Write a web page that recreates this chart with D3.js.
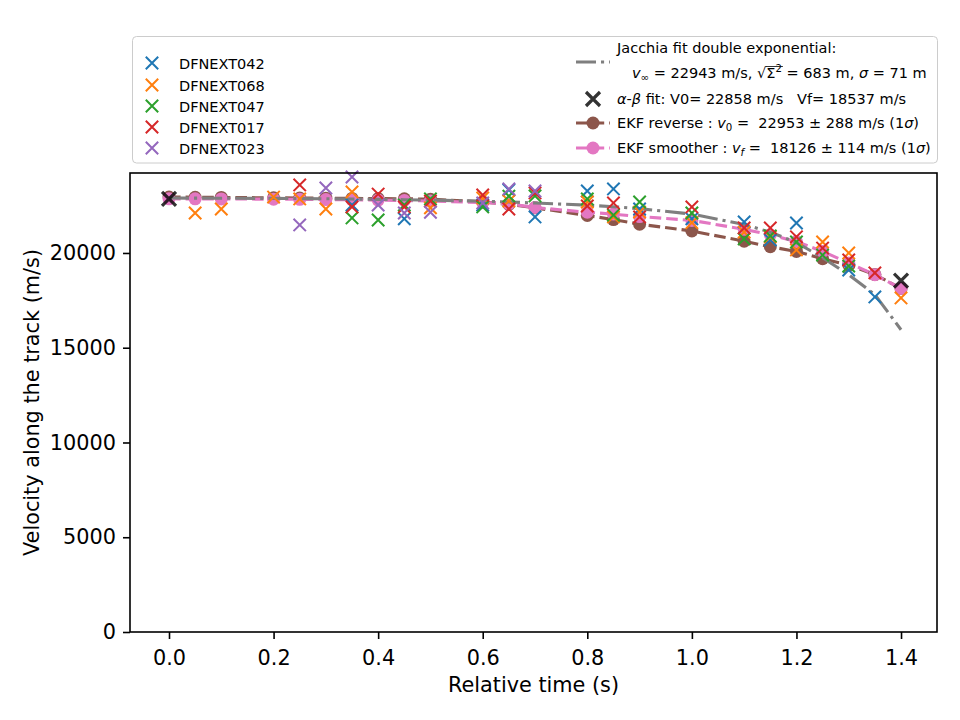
<!DOCTYPE html>
<html>
<head>
<meta charset="utf-8">
<script src="https://cdn.jsdelivr.net/npm/d3@7"></script>
<style>
body { margin: 0; background: #fff; }
text { font-family: "DejaVu Sans", sans-serif; }
</style>
</head>
<body>
<div id="chart"></div>
<script>
// sample times of the tracks (s)
var times = [0, 0.05, 0.1, 0.2, 0.25, 0.3, 0.35, 0.4, 0.45, 0.5, 0.6, 0.65, 0.7, 0.8, 0.85, 0.9, 1.0, 1.1, 1.15, 1.2, 1.25, 1.3, 1.35, 1.4];

// per camera velocities (m/s), null = no point
var dfnext042 = [null, null, null, null, null, null, 22530, null, 21800, null, 22530, 23320, 21900, 23270, 23380, 22320, 21800, 21640, 20690, 21580, null, 19100, 17680, null];
var dfnext068 = [null, 22110, 22320, 22950, 22850, 22320, 23220, null, null, 22380, 22900, 22740, null, 22690, 21900, 22160, 21600, 21100, 20850, 20160, 20580, 20000, null, 17630];
var dfnext047 = [null, null, null, null, null, null, 21850, 21740, 22530, 22850, 22430, 23000, 23010, 22850, 22000, 22690, 22110, 20740, 20900, 20580, 19890, 19310, null, null];
var dfnext017 = [null, null, null, null, 23590, null, 22430, 23110, 22430, 22740, 23060, 22320, 23170, 22480, 22640, 21900, 22430, 21320, 21320, 20850, 20260, 19630, 18950, null];
var dfnext023 = [null, null, null, null, 21480, 23430, 24010, 22530, 22110, 22150, 22640, 23380, 23270, null, null, null, null, null, null, null, null, null, null, null];

var cameraNames = ['DFNEXT042', 'DFNEXT068', 'DFNEXT047', 'DFNEXT017', 'DFNEXT023'];
var cameraColors = ['#1f77b4', '#ff7f0e', '#2ca02c', '#d62728', '#9467bd'];

// fits and filters (m/s)
var jacchiaFit = [22900, 22895, 22890, 22880, 22870, 22860, 22845, 22830, 22810, 22790, 22730, 22690, 22640, 22520, 22440, 22340, 22050, 21500, 21100, 20550, 19750, 18850, 17800, 15950];
var ekfReverse = [22953, 22940, 22930, 22910, 22900, 22890, 22880, 22870, 22860, 22840, 22700, 22560, 22380, 21980, 21760, 21520, 21160, 20620, 20330, 20080, 19700, 19360, 18860, 18130];
var ekfSmoother = [22858, 22855, 22850, 22840, 22830, 22820, 22810, 22790, 22770, 22740, 22660, 22600, 22400, 22150, 22050, 21920, 21720, 21250, 20960, 20600, 20080, 19470, 18850, 18126];
var alphaBetaTimes = [0, 1.4];
var alphaBetaValues = [22858, 18537];

var xTicks = [0, 0.2, 0.4, 0.6, 0.8, 1.0, 1.2, 1.4];
var yTicks = [0, 5000, 10000, 15000, 20000];

// chart dimensions
var width = 960;
var height = 720;
var plotLeft = 130, plotRight = 937, plotTop = 173, plotBottom = 632;

var x = d3.scaleLinear().domain([-0.0746, 1.4688]).range([plotLeft, plotRight]);
var y = d3.scaleLinear().domain([0, 24220]).range([plotBottom, plotTop]);

var svg = d3.select('#chart')
  .append('svg')
  .attr('width', width)
  .attr('height', height);

// helper: turn a value array into points
function points(values) {
  return times.map(function(t, i) { return { t: t, v: values[i] }; });
}

function drawX(g, cx, cy, r, color, w) {
  g.append('path')
    .attr('d', 'M' + (cx - r) + ',' + (cy - r) + 'L' + (cx + r) + ',' + (cy + r) + 'M' + (cx - r) + ',' + (cy + r) + 'L' + (cx + r) + ',' + (cy - r))
    .attr('stroke', color)
    .attr('stroke-width', w)
    .attr('fill', 'none');
}

var line = d3.line()
  .defined(function(d) { return d.v != null; })
  .x(function(d) { return x(d.t); })
  .y(function(d) { return y(d.v); });

var plot = svg.append('g');

// EKF reverse (brown)
plot.append('path')
  .attr('d', line(points(ekfReverse)))
  .attr('fill', 'none')
  .attr('stroke', '#8c564b')
  .attr('stroke-width', 3.1)
  .attr('stroke-dasharray', '11.6,5');
plot.selectAll('.rev')
  .data(points(ekfReverse))
  .enter()
  .append('circle')
  .attr('cx', function(d) { return x(d.t); })
  .attr('cy', function(d) { return y(d.v); })
  .attr('r', 6.5)
  .attr('fill', '#8c564b');

// EKF smoother (pink)
plot.append('path')
  .attr('d', line(points(ekfSmoother)))
  .attr('fill', 'none')
  .attr('stroke', '#e377c2')
  .attr('stroke-width', 3.1)
  .attr('stroke-dasharray', '11.6,5');
plot.selectAll('.smo')
  .data(points(ekfSmoother))
  .enter()
  .append('circle')
  .attr('cx', function(d) { return x(d.t); })
  .attr('cy', function(d) { return y(d.v); })
  .attr('r', 6.5)
  .attr('fill', '#e377c2');

// Jacchia fit (gray dash-dot)
plot.append('path')
  .attr('d', line(points(jacchiaFit)))
  .attr('fill', 'none')
  .attr('stroke', '#7f7f7f')
  .attr('stroke-width', 3.1)
  .attr('stroke-dasharray', '20,5,3.1,5');

// camera points
[dfnext042, dfnext068, dfnext047, dfnext017, dfnext023].forEach(function(values, k) {
  points(values).forEach(function(d) {
    if (d.v == null) return;
    drawX(plot, x(d.t), y(d.v), 6.2, cameraColors[k], 2);
  });
});

// alpha-beta fit
alphaBetaTimes.forEach(function(t, i) {
  drawX(plot, x(t), y(alphaBetaValues[i]), 7, 'rgba(0,0,0,0.8)', 3.2);
});

// axes
var xAxis = d3.axisBottom(x).tickValues(xTicks).tickFormat(d3.format('.1f')).tickSize(7).tickPadding(11);
var yAxis = d3.axisLeft(y).tickValues(yTicks).tickFormat(d3.format('d')).tickSize(7).tickPadding(7);

svg.append('g').attr('transform', 'translate(0,' + plotBottom + ')').call(xAxis)
  .call(function(g) { g.select('.domain').remove(); })
  .call(function(g) { g.selectAll('text').attr('font-size', 20.8).attr('font-family', 'DejaVu Sans').attr('fill', '#000'); })
  .call(function(g) { g.selectAll('line').attr('stroke', '#000').attr('stroke-width', 1.6); });

svg.append('g').attr('transform', 'translate(' + plotLeft + ',0)').call(yAxis)
  .call(function(g) { g.select('.domain').remove(); })
  .call(function(g) { g.selectAll('text').attr('font-size', 20.8).attr('font-family', 'DejaVu Sans').attr('fill', '#000'); })
  .call(function(g) { g.selectAll('line').attr('stroke', '#000').attr('stroke-width', 1.6); });

svg.append('rect')
  .attr('x', plotLeft)
  .attr('y', plotTop)
  .attr('width', plotRight - plotLeft)
  .attr('height', plotBottom - plotTop)
  .attr('fill', 'none')
  .attr('stroke', '#000')
  .attr('stroke-width', 1.6);

// axis labels
svg.append('text')
  .attr('x', (plotLeft + plotRight) / 2)
  .attr('y', 692)
  .attr('text-anchor', 'middle')
  .attr('font-size', 20.8)
  .text('Relative time (s)');

svg.append('text')
  .attr('transform', 'translate(39,' + ((plotTop + plotBottom) / 2) + ') rotate(-90)')
  .attr('text-anchor', 'middle')
  .attr('font-size', 20.8)
  .text('Velocity along the track (m/s)');

// legend
var legend = svg.append('g');
legend.append('rect')
  .attr('x', 132.5)
  .attr('y', 36.5)
  .attr('width', 805)
  .attr('height', 126.5)
  .attr('rx', 4)
  .attr('fill', '#fff')
  .attr('fill-opacity', 0.8)
  .attr('stroke', '#cccccc');

var leftRows = [63, 85, 106, 127, 148];
cameraNames.forEach(function(name, i) {
  drawX(legend, 152, leftRows[i], 6.2, cameraColors[i], 2);
  legend.append('text')
    .attr('x', 179)
    .attr('y', leftRows[i] + 5.5)
    .attr('font-size', 14.5)
    .text(name);
});

// rich text helper: parts with italic / sub / sup
function richText(g, xPos, yPos, parts) {
  var t = g.append('text')
    .attr('x', xPos)
    .attr('y', yPos)
    .attr('font-size', 14.5)
    .style('white-space', 'pre');
  var shift = 0;
  parts.forEach(function(p) {
    var target = p.sub ? 3 : (p.sup ? -6 : 0);
    var ts = t.append('tspan').text(p.t).attr('dy', target - shift);
    shift = target;
    if (p.it) ts.attr('font-style', 'italic');
    if (p.sub || p.sup) ts.attr('font-size', 10.2);
  });
  return t;
}

var hx0 = 576, hx1 = 610, hxm = 593, tx = 617;

// Jacchia entry
legend.append('line')
  .attr('x1', hx0).attr('x2', hx1).attr('y1', 62).attr('y2', 62)
  .attr('stroke', '#7f7f7f')
  .attr('stroke-width', 3.1)
  .attr('stroke-dasharray', '20,5,3.1,5');
richText(legend, tx, 53, [{ t: 'Jacchia fit double exponential:' }]);
var jt = richText(legend, 632, 78, [
  { t: 'v', it: true }, { t: '∞', sub: true },
  { t: ' = 22943 m/s, ' }, { t: '√' }, { t: 'Σ' }, { t: '2', sup: true },
  { t: ' = 683 m, ' }, { t: 'σ', it: true }, { t: ' = 71 m' }
]);
// overline of the square root
var jNode = jt.node();
var full = jNode.textContent;
var iRoot = full.indexOf('√');
var rootBox = jNode.getExtentOfChar(iRoot);
var supBox = jNode.getExtentOfChar(iRoot + 2);
legend.append('line')
  .attr('x1', rootBox.x + rootBox.width - 0.5)
  .attr('x2', supBox.x + supBox.width + 1)
  .attr('y1', rootBox.y + 1.5)
  .attr('y2', rootBox.y + 1.5)
  .attr('stroke', '#000')
  .attr('stroke-width', 0.8);

// alpha-beta entry
drawX(legend, hxm, 99, 7, 'rgba(0,0,0,0.8)', 3.2);
richText(legend, tx, 104, [
  { t: 'α', it: true }, { t: '-' }, { t: 'β', it: true },
  { t: ' fit: V0= 22858 m/s   Vf= 18537 m/s' }
]);

// EKF reverse entry
legend.append('line')
  .attr('x1', hx0).attr('x2', hx1).attr('y1', 123).attr('y2', 123)
  .attr('stroke', '#8c564b')
  .attr('stroke-width', 3.1)
  .attr('stroke-dasharray', '11.6,5');
legend.append('circle').attr('cx', hxm).attr('cy', 123).attr('r', 6.5).attr('fill', '#8c564b');
richText(legend, tx, 128, [
  { t: 'EKF reverse : ' }, { t: 'v', it: true }, { t: '0', sub: true },
  { t: ' =  22953 ± 288 m/s (1' }, { t: 'σ', it: true }, { t: ')' }
]);

// EKF smoother entry
legend.append('line')
  .attr('x1', hx0).attr('x2', hx1).attr('y1', 148).attr('y2', 148)
  .attr('stroke', '#e377c2')
  .attr('stroke-width', 3.1)
  .attr('stroke-dasharray', '11.6,5');
legend.append('circle').attr('cx', hxm).attr('cy', 148).attr('r', 6.5).attr('fill', '#e377c2');
richText(legend, tx, 153, [
  { t: 'EKF smoother : ' }, { t: 'v', it: true }, { t: 'f', it: true, sub: true },
  { t: ' =  18126 ± 114 m/s (1' }, { t: 'σ', it: true }, { t: ')' }
]);
</script>
</body>
</html>
